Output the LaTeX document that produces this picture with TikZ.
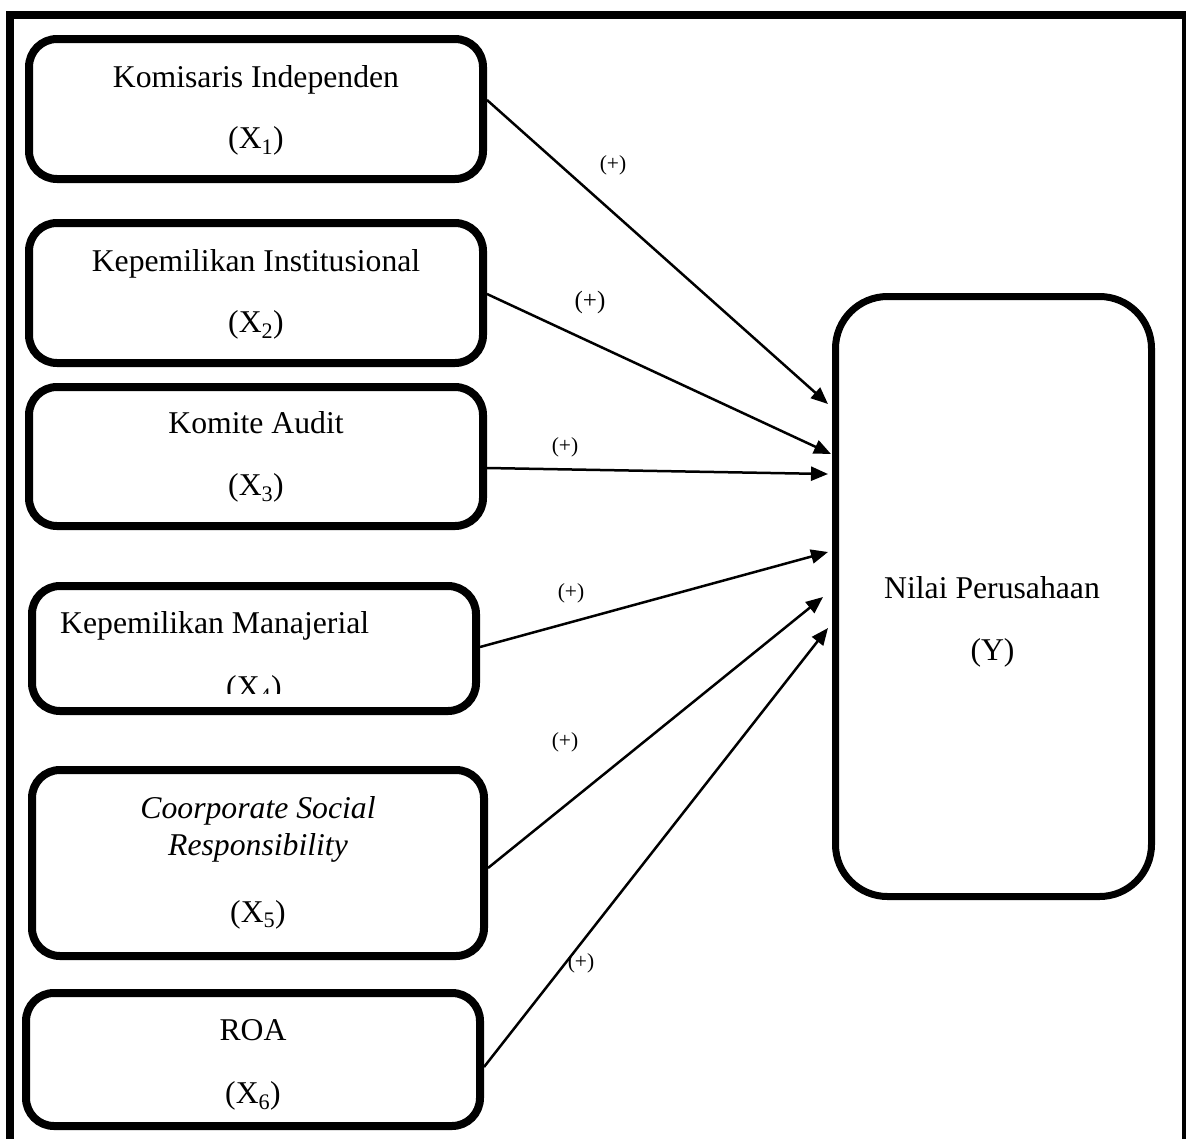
\documentclass[tikz,border=0pt]{standalone}
\usepackage{fontspec}
\setmainfont{Liberation Serif}
\usetikzlibrary{arrows.meta}
\begin{document}
\begin{tikzpicture}[x=1pt,y=-1pt,
  box/.style={draw, line width=8pt, rounded corners=28pt, inner sep=0pt},
  bigbox/.style={draw, line width=7pt, rounded corners=52pt, inner sep=0pt},
  txt/.style={font=\fontsize{31.7}{38}\selectfont, inner sep=0pt, anchor=base},
  lab/.style={font=\fontsize{21.5}{26}\selectfont, inner sep=0pt},
  arr/.style={line width=2.5pt, -{Triangle[length=17pt,width=14pt]}}]
\useasboundingbox (0,0) rectangle (1186,1138);
\clip (0,0) rectangle (1186,1138);
% outer frame
\draw[line width=8pt] (9.5,14.5) rectangle (1186,1170);
% boxes
\node[box, minimum width=454pt, minimum height=140pt] (x1) at (256,109) {};
\node[box, minimum width=454pt, minimum height=140pt] (x2) at (256,293) {};
\node[box, minimum width=454pt, minimum height=139pt] (x3) at (256,456.5) {};
\node[box, minimum width=444pt, minimum height=125pt] (x4) at (254,648.5) {};
\node[box, minimum width=452pt, minimum height=186pt] (x5) at (258,863) {};
\node[box, minimum width=454pt, minimum height=133pt] (x6) at (253,1059.5) {};
\node[bigbox, minimum width=316pt, minimum height=600pt] (y) at (993.5,596.5) {};
% texts
\node[txt] (t1a) at (256,87) {Komisaris Independen};
\node[txt] (t1b) at (256,148) {(X\textsubscript{1})};
\node[txt] (t2a) at (256,271) {Kepemilikan Institusional};
\node[txt] (t2b) at (256,332) {(X\textsubscript{2})};
\node[txt] (t3a) at (256,433) {Komite Audit};
\node[txt] (t3b) at (256,495) {(X\textsubscript{3})};
\node[txt, anchor=base west] (t4a) at (60,633) {Kepemilikan Manajerial};
\begin{scope}
\clip (0,0) rectangle (1186,693.5);
\node[txt] (t4b) at (254,697) {(X\textsubscript{4})};
\end{scope}
\node[txt] (t5a) at (258,818) {\itshape Coorporate Social};
\node[txt] (t5b) at (258,855) {\itshape Responsibility};
\node[txt] (t5c) at (258,922) {(X\textsubscript{5})};
\node[txt] (t6a) at (253,1040) {ROA};
\node[txt] (t6b) at (253,1103) {(X\textsubscript{6})};
\node[txt] (tya) at (992,598) {Nilai Perusahaan};
\node[txt] (tyb) at (992.5,660) {(Y)};
% arrows
\draw[arr] ([yshift=9pt]x1.east) -- ([xshift=-4pt,yshift=192.5pt]y.west);
\draw[arr] ([yshift=-1pt]x2.east) -- ([xshift=-1pt,yshift=142.5pt]y.west);
\draw[arr] ([yshift=-11.5pt]x3.east) -- ([xshift=-4pt,yshift=122.5pt]y.west);
\draw[arr] ([yshift=1.5pt]x4.east) -- ([xshift=-4pt,yshift=44.5pt]y.west);
\draw[arr] ([yshift=-5pt]x5.east) -- ([xshift=-9pt,yshift=-0.5pt]y.west);
\draw[arr] ([yshift=-7.5pt]x6.east) -- ([xshift=-4pt,yshift=-31.5pt]y.west);
% labels
\node[lab] (l1) at (613,165) {(+)};
\node[lab, font=\fontsize{25}{30}\selectfont] (l2) at (590,302) {(+)};
\node[lab] (l3) at (565,447) {(+)};
\node[lab] (l4) at (571,593) {(+)};
\node[lab] (l5) at (565,742) {(+)};
\node[lab] (l6) at (581,963) {(+)};
\end{tikzpicture}
\end{document}
